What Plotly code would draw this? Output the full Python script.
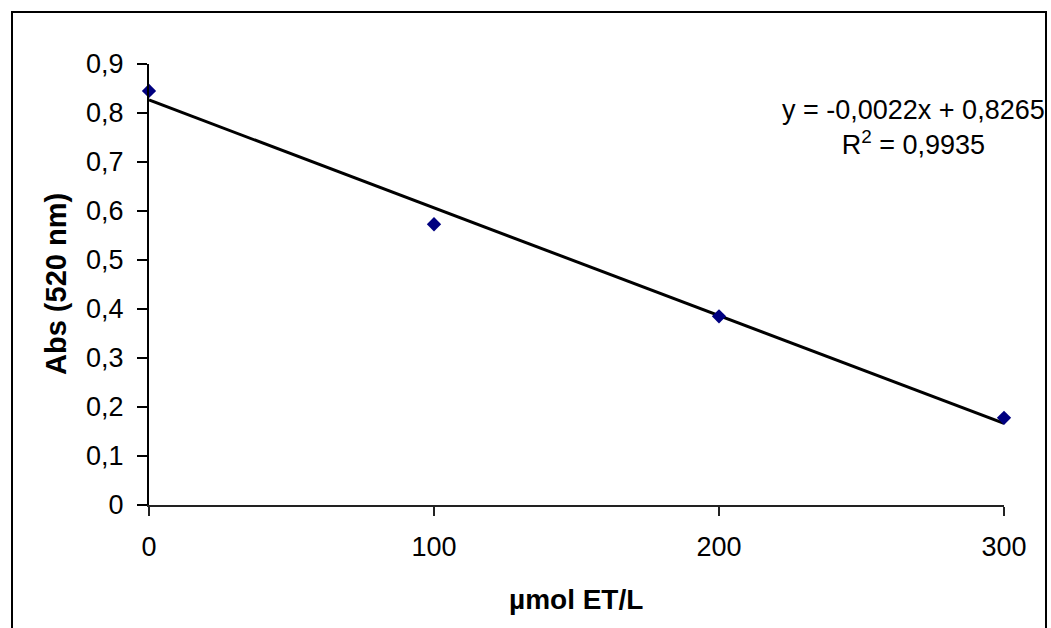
import plotly.graph_objects as go

# Data
conc = [0, 100, 200, 300]                 # µmol ET/L
absorbance = [0.845, 0.573, 0.385, 0.178]  # Abs (520 nm)
trend_x = [0, 300]
trend_y = [0.8265, 0.1665]                 # y = -0,0022x + 0,8265
x_ticks = [0, 100, 200, 300]
y_ticks = [0, 0.1, 0.2, 0.3, 0.4, 0.5, 0.6, 0.7, 0.8, 0.9]
eq_text = "y = -0,0022x + 0,8265<br>R<sup>2</sup> = 0,9935"

W, H = 1051, 628
L, R, T, B = 149, 47, 64, 123
pw, ph = W - L - R, H - T - B

def px_x(px):
    return (px - L) / pw

def px_y(py):
    return (H - B - py) / ph

FONT = "Liberation Sans, Arial, sans-serif"

fig = go.Figure()
fig.add_trace(go.Scatter(x=trend_x, y=trend_y, mode="lines",
                         line=dict(color="black", width=3),
                         cliponaxis=False, showlegend=False, hoverinfo="skip"))
fig.add_trace(go.Scatter(x=conc, y=absorbance, mode="markers",
                         marker=dict(symbol="diamond", size=11, color="#000080",
                                     line=dict(width=0)),
                         cliponaxis=False, showlegend=False))

fig.update_layout(
    width=W, height=H,
    margin=dict(l=L, r=R, t=T, b=B, pad=0),
    paper_bgcolor="white", plot_bgcolor="white",
    separators=",.",
    font=dict(family=FONT, color="black", size=27),
    showlegend=False,
    xaxis=dict(range=[0, 300], tickvals=x_ticks, showgrid=False, zeroline=False,
               showline=True, linecolor="#222222", linewidth=1.5,
               ticks="outside", ticklen=9, tickwidth=1.5, tickcolor="#222222",
               tickfont=dict(size=27), ticklabelstandoff=8),
    yaxis=dict(range=[0, 0.9], tickvals=y_ticks, showgrid=False, zeroline=False,
               showline=True, linecolor="black", linewidth=2,
               ticks="outside", ticklen=10, tickwidth=2, tickcolor="black",
               tickfont=dict(size=27), ticklabelstandoff=8),
)

fig.add_annotation(xref="paper", yref="paper", x=px_x(576), y=px_y(599),
                   text="<b>µmol ET/L</b>", showarrow=False,
                   xanchor="center", yanchor="middle", font=dict(size=28))
fig.add_annotation(xref="paper", yref="paper", x=px_x(56), y=px_y(284),
                   text="<b>Abs (520 nm)</b>", showarrow=False, textangle=-90,
                   xanchor="center", yanchor="middle", font=dict(size=29))
fig.add_annotation(xref="paper", yref="paper", x=px_x(913), y=px_y(127),
                   text=eq_text, showarrow=False, align="center",
                   xanchor="center", yanchor="middle", font=dict(size=27))

fig.add_shape(type="rect", xref="paper", yref="paper",
              x0=px_x(12), x1=px_x(1046), y0=px_y(660), y1=px_y(12),
              line=dict(color="black", width=2), fillcolor="rgba(0,0,0,0)",
              layer="below")

fig.write_html("out.html")
